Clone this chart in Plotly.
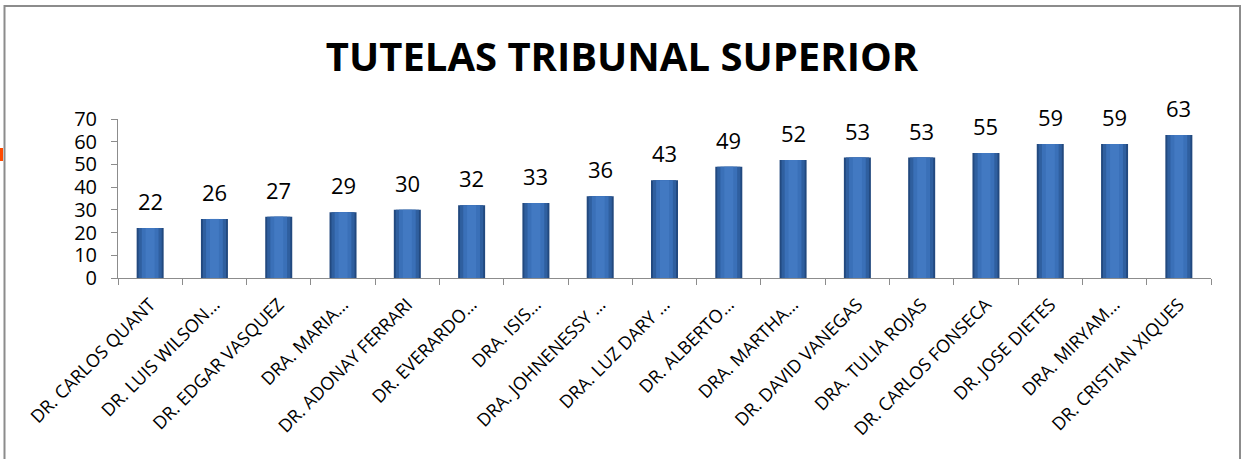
import plotly.graph_objects as go

categories = [
    "DR. CARLOS QUANT", "DR. LUIS WILSON…", "DR. EDGAR VASQUEZ", "DRA. MARIA…",
    "DR. ADONAY FERRARI", "DR. EVERARDO…", "DRA. ISIS…", "DRA. JOHNENESSY …",
    "DRA. LUZ DARY …", "DR. ALBERTO…", "DRA. MARTHA…", "DR. DAVID VANEGAS",
    "DRA. TULIA ROJAS", "DR. CARLOS FONSECA", "DR. JOSE DIETES", "DRA. MIRYAM…",
    "DR. CRISTIAN XIQUES",
]
values = [22, 26, 27, 29, 30, 32, 33, 36, 43, 49, 52, 53, 53, 55, 59, 59, 63]
title_text = "TUTELAS TRIBUNAL SUPERIOR"
ytick_vals = [0, 10, 20, 30, 40, 50, 60, 70]

FONT = "Open Sans"
W, H = 1241, 459
ML, MR, MT, MB = 118, 30, 119, 181
pw, ph = W - ML - MR, H - MT - MB

def px_x(x):
    return (x - ML) / pw

def px_y(y):
    return (H - MB - y) / ph

fig = go.Figure()
layers = [(0.42, "#22497f"), (0.36, "#2f5f9f"), (0.26, "#3a70b8"), (0.14, "#4279c2")]
for w, c in layers:
    fig.add_trace(go.Bar(
        x=categories, y=values, width=w,
        marker=dict(color=c, line=dict(width=0)),
        hoverinfo="skip", showlegend=False,
    ))

for c, v in zip(categories, values):
    fig.add_annotation(x=c, y=v, text=str(v), showarrow=False, yshift=27,
                       font=dict(family=FONT, size=22, color="#000000"))

fig.update_layout(
    width=W, height=H,
    barmode="overlay",
    paper_bgcolor="white", plot_bgcolor="white",
    margin=dict(l=ML, r=MR, t=MT, b=MB, autoexpand=False),
    title=dict(text="<b>" + title_text + "</b>", x=(622) / W, xanchor="center",
               y=1 - 57 / H, yanchor="middle",
               font=dict(family=FONT, size=40, color="#000000")),
    xaxis=dict(
        type="category", showline=True, linecolor="#8c8c8c", linewidth=1,
        ticks="outside", tickson="boundaries", ticklen=6, tickcolor="#8c8c8c",
        tickangle=-45, showgrid=False, ticklabelstandoff=8,
        tickfont=dict(family=FONT, size=18, color="#000000"),
    ),
    yaxis=dict(
        range=[0, 70], tickvals=ytick_vals, showline=True, linecolor="#8c8c8c",
        linewidth=1, ticks="outside", ticklen=6, tickcolor="#8c8c8c",
        showgrid=False, zeroline=False, ticklabelstandoff=10,
        tickfont=dict(family=FONT, size=20, color="#000000"),
    ),
    shapes=[
        dict(type="rect", xref="paper", yref="paper",
             x0=px_x(4.5), x1=px_x(1240), y0=px_y(475), y1=px_y(6),
             line=dict(color="#8c8c8c", width=2), fillcolor="rgba(0,0,0,0)", layer="below"),
        dict(type="rect", xref="paper", yref="paper",
             x0=px_x(-2), x1=px_x(3), y0=px_y(161), y1=px_y(148),
             line=dict(width=0), fillcolor="#ff4a00"),
    ],
)

fig.write_html(
    "out.html",
    config={"displayModeBar": False},
    post_script="document.body.style.margin='0';document.body.style.overflow='hidden';",
)
